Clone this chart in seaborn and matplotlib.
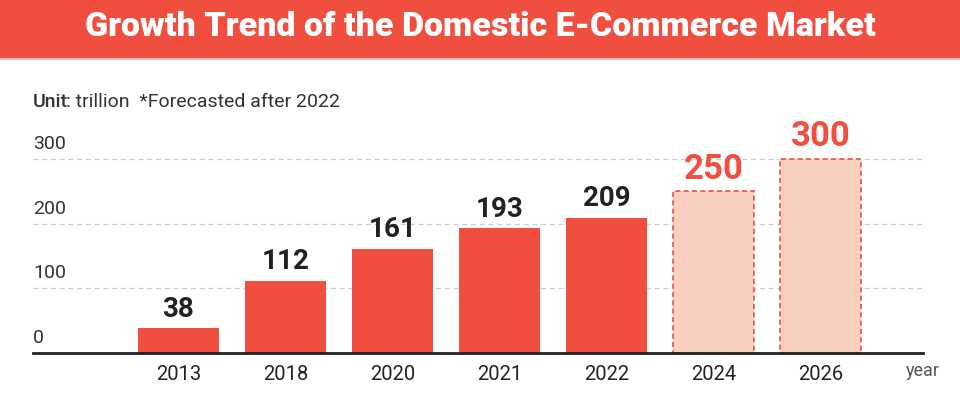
import matplotlib
matplotlib.use("Agg")
import matplotlib.pyplot as plt
import seaborn as sns
import pandas as pd
from matplotlib.patches import Rectangle

years = ["2013", "2018", "2020", "2021", "2022", "2024", "2026"]
values = [38, 112, 161, 193, 209, 250, 300]
forecast = [False, False, False, False, False, True, True]
yticks = [0, 100, 200, 300]

RED = "#F04F40"
PEACH = "#F9CFC0"
DARK = "#222222"

sns.set_theme(style="white")
plt.rcParams["font.family"] = ["Roboto", "DejaVu Sans"]

df = pd.DataFrame({"year": years, "value": values, "forecast": forecast})

fig = plt.figure(figsize=(9.6, 4.03), dpi=100)

# header band
fig.patches.append(Rectangle((0, 1 - 58 / 403), 1, 58 / 403, transform=fig.transFigure,
                             facecolor=RED, edgecolor="none", zorder=0))
fig.patches.append(Rectangle((0, 1 - 60 / 403), 1, 2 / 403, transform=fig.transFigure,
                             facecolor="#F8B8AE", edgecolor="none", zorder=0))
fig.text(0.5, 1 - 27 / 403, "Growth Trend of the Domestic E-Commerce Market",
         ha="center", va="center", color="white", fontsize=24.5, fontweight="black")

ax = fig.add_axes([33 / 960, 50 / 403, 890 / 960, 220 / 403])
colors = [PEACH if f else RED for f in forecast]
sns.barplot(data=df, x="year", y="value", hue="year", palette=colors, legend=False,
            width=0.757, ax=ax, saturation=1)

for patch, f in zip(ax.patches, forecast):
    if f:
        patch.set_edgecolor(RED)
        patch.set_linestyle((0, (3, 2)))
        patch.set_linewidth(1.2)
    else:
        patch.set_edgecolor("none")

ax.set_xlim(-1.36, 6.96)
ax.set_ylim(0, 340)

for t in yticks[1:]:
    ax.axhline(t, color="#CCCCCC", linestyle=(0, (4, 3)), linewidth=0.9, zorder=0)
for t in yticks:
    ax.text(0.0, t + 9, str(t), transform=ax.get_yaxis_transform(),
            ha="left", va="bottom", fontsize=14, color="#333333")

for i, (v, f) in enumerate(zip(values, forecast)):
    if f:
        ax.annotate(str(v), (i, v), xytext=(0, 4), textcoords="offset points",
                    ha="center", va="bottom", fontsize=25, fontweight="bold", color=RED)
    else:
        ax.annotate(str(v), (i, v), xytext=(0, 4), textcoords="offset points",
                    ha="center", va="bottom", fontsize=20, fontweight="bold", color=DARK)

for s in ["top", "right", "left"]:
    ax.spines[s].set_visible(False)
ax.spines["bottom"].set_color("#222222")
ax.spines["bottom"].set_linewidth(2)
ax.set_yticks([])
ax.set_xlabel("")
ax.set_ylabel("")
ax.tick_params(axis="x", length=0, pad=9, labelsize=14.5, labelcolor="#222222")

fig.text(940 / 960, 1 - 371 / 403, "year", ha="right", va="center",
         fontsize=13, color="#555555")

fig.text(33 / 960, 1 - 102 / 403, "Unit", ha="left", va="center",
         fontsize=14, fontweight="medium", color="#333333")
fig.text(66 / 960, 1 - 102 / 403, ": trillion  *Forecasted after 2022", ha="left",
         va="center", fontsize=14, color="#333333")

fig.savefig("out.png", dpi=100)
